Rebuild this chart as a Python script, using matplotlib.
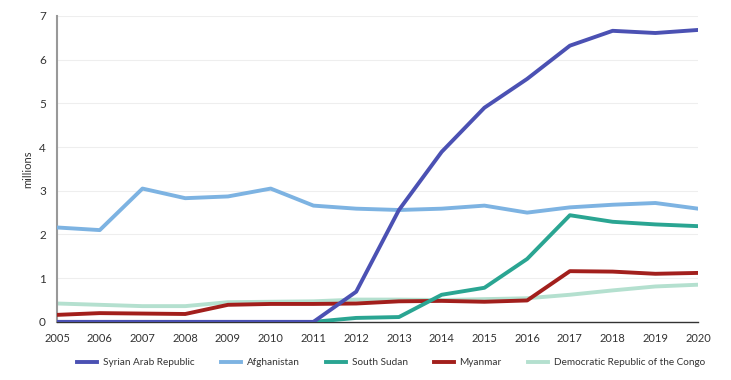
import matplotlib
matplotlib.use("Agg")
import matplotlib.pyplot as plt

years = list(range(2005, 2021))
syria = [0, 0, 0, 0, 0, 0, 0, 0.69, 2.56, 3.89, 4.9, 5.56, 6.32, 6.66, 6.61, 6.68]
afghanistan = [2.16, 2.1, 3.05, 2.83, 2.87, 3.05, 2.66, 2.59, 2.56, 2.59, 2.66, 2.5, 2.62, 2.68, 2.72, 2.59]
ss_years = list(range(2011, 2021))
south_sudan = [0, 0.09, 0.11, 0.62, 0.78, 1.44, 2.44, 2.29, 2.23, 2.19]
myanmar = [0.16, 0.2, 0.19, 0.18, 0.39, 0.41, 0.41, 0.42, 0.47, 0.48, 0.46, 0.49, 1.16, 1.15, 1.1, 1.12]
drc = [0.42, 0.39, 0.36, 0.36, 0.45, 0.46, 0.47, 0.51, 0.51, 0.50, 0.52, 0.54, 0.62, 0.72, 0.81, 0.85]

labels = ["Syrian Arab Republic", "Afghanistan", "South Sudan", "Myanmar",
          "Democratic Republic of the Congo"]
colors = ["#4b51b3", "#7db3e2", "#2aa592", "#a21f1c", "#b4e0cf"]

plt.rcParams['font.family'] = ['Lato', 'DejaVu Sans']

fig = plt.figure(figsize=(7.31, 3.80), dpi=100)
ax = fig.add_axes([0.078, 0.153, 0.877, 0.805])

lw = 2.8
ax.plot(years, drc, color=colors[4], lw=lw, label=labels[4], zorder=2)
ax.plot(years, myanmar, color=colors[3], lw=lw, label=labels[3], zorder=3)
ax.plot(ss_years, south_sudan, color=colors[2], lw=lw, label=labels[2], zorder=4)
ax.plot(years, afghanistan, color=colors[1], lw=lw, label=labels[1], zorder=5)
ax.plot(years, syria, color=colors[0], lw=lw, label=labels[0], zorder=6)

ax.set_xlim(2005, 2020)
ax.set_ylim(0, 7)
ax.set_xticks(years)
ax.set_xticklabels([str(y) for y in years], fontsize=8, color="#333333")
ax.set_yticks(range(0, 8))
ax.tick_params(axis='y', labelsize=8.5, colors="#333333", length=0, pad=8)
ax.tick_params(axis='x', length=0, pad=8)
ax.grid(axis='y', color="#eeeeee", lw=0.8)
ax.set_axisbelow(True)
for s in ["top", "right"]:
    ax.spines[s].set_visible(False)
ax.spines["left"].set_color("#999999")
ax.spines["left"].set_linewidth(1.5)
ax.spines["bottom"].set_color("#333333")
ax.spines["bottom"].set_linewidth(1.0)
ax.set_ylabel("millions", fontsize=8, color="#333333", labelpad=4)

handles, labs = ax.get_legend_handles_labels()
order = [labs.index(l) for l in labels]
fig.legend([handles[i] for i in order], [labs[i] for i in order],
           loc="center", bbox_to_anchor=(0.535, 0.045), ncol=5, frameon=False,
           fontsize=7.2, handlelength=2.0, columnspacing=2.6, handletextpad=0.6,
           labelcolor="#333333")

fig.savefig("out.png", dpi=100)
